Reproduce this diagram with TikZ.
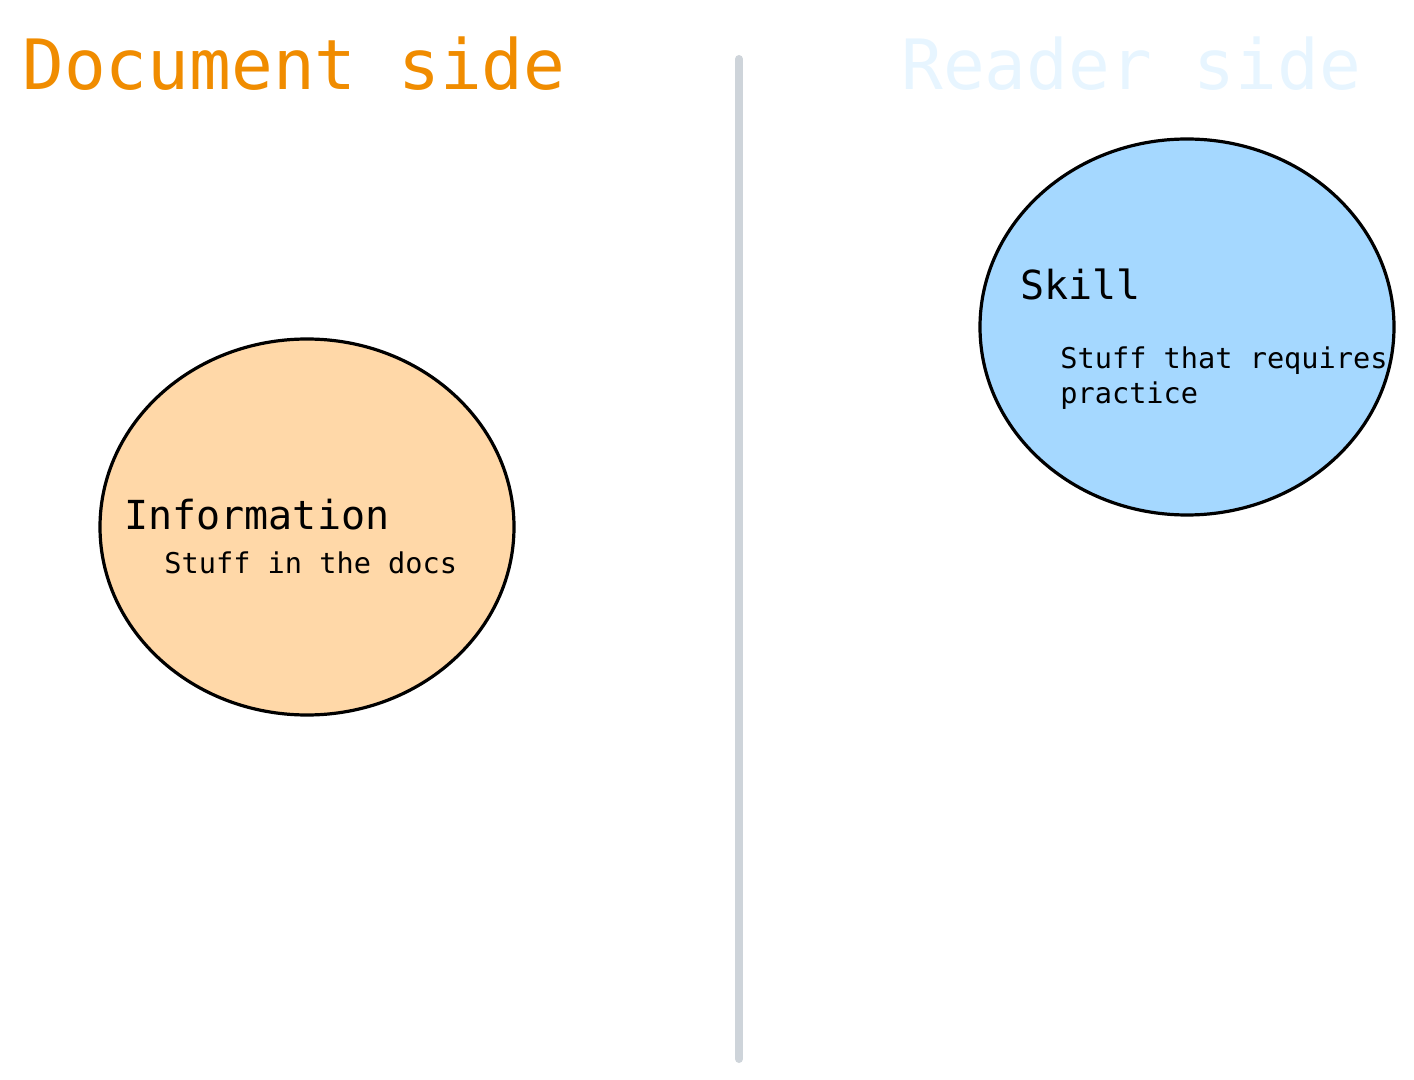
\documentclass[tikz,border=0pt]{standalone}
\usepackage{fontspec}
\setmonofont{DejaVu Sans Mono}
\usetikzlibrary{shapes.geometric}
\definecolor{docorange}{HTML}{F08C00}
\definecolor{readerblue}{HTML}{E7F5FF}
\definecolor{infofill}{HTML}{FFD8A8}
\definecolor{skillfill}{HTML}{A5D8FF}
\definecolor{divgray}{HTML}{CED4DA}
\tikzset{
  side/.style={anchor=base west, inner sep=0pt, font=\ttfamily\fontsize{34.7}{40}\selectfont},
  blob/.style={ellipse, draw=black, line width=1.6pt, minimum width=207pt, minimum height=188pt},
  head/.style={anchor=base west, inner sep=0pt, font=\ttfamily\fontsize{20}{24}\selectfont},
  body/.style={anchor=base west, inner sep=0pt, align=left, font=\ttfamily\fontsize{14.3}{17.5}\selectfont}
}
\begin{document}
\begin{tikzpicture}[x=0.5pt,y=-0.5pt]
        \useasboundingbox (0,0) rectangle (1414,1080);
        % SIDES
        \node[side, text=docorange] (docside) at (22,90) {Document side};
        \node[side, text=readerblue] (readside) at (901,90) {Reader side};

        % DIVIDER
        \coordinate (divtop) at (739,59);
        \coordinate (divbot) at (739,1059);
        \draw[divgray, line width=4pt, line cap=round] (divtop) -- (divbot);

        % INFORMATION
        \node[blob, fill=infofill] (info) at (307,527) {};
        \node[head] (infohead) at (124,530) {Information};
        \node[body] (infotext) at (164,574) {Stuff in the docs};

        % SKILL
        \node[blob, fill=skillfill] (skill) at (1187,327) {};
        \node[head] (skillhead) at (1020,300) {Skill};
        \node[body] (skilltext) at (1060,404) {Stuff that requires\\practice};
\end{tikzpicture}
\end{document}
